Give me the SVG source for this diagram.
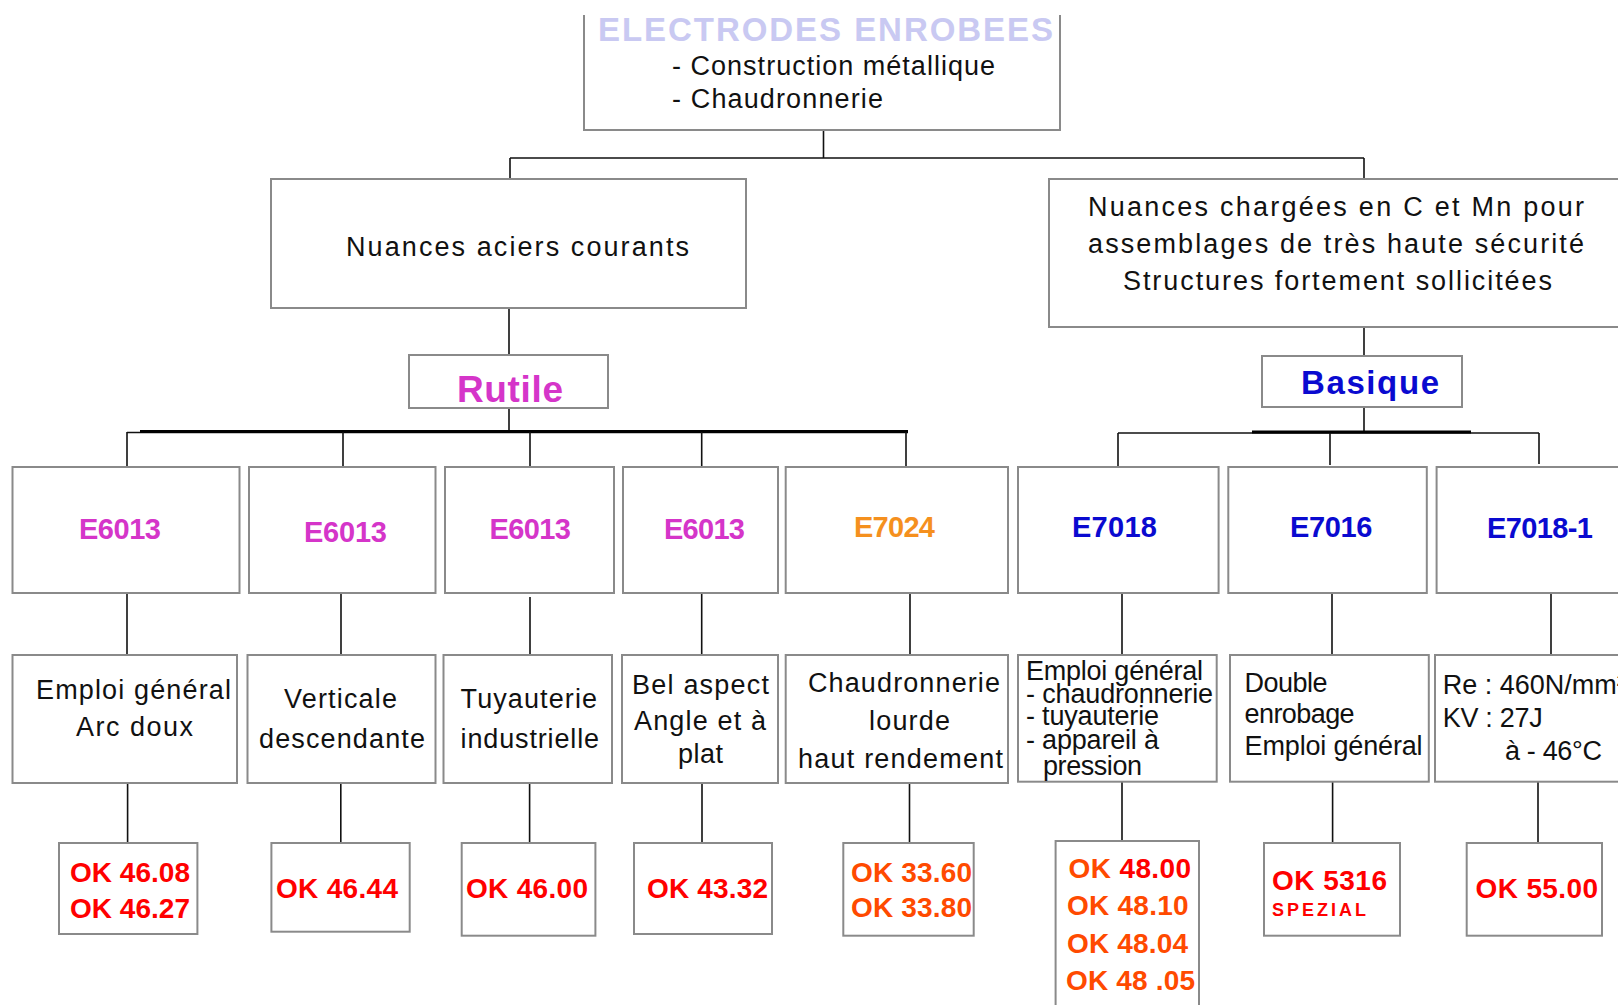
<svg xmlns="http://www.w3.org/2000/svg" width="1618" height="1005" viewBox="0 0 1618 1005">
<style>
.box{fill:#fff;stroke:#8a8a8a;stroke-width:2}
.c{fill:none;stroke:#111;stroke-width:1.6}
.thick{fill:none;stroke:#000;stroke-width:3}
text{font-family:"Liberation Sans",Arial,sans-serif}
.t{font-size:27px;fill:#111}
.code{font-size:29px;font-weight:bold}
.mag{fill:#d535c9}
.blu{fill:#0a0ad0}
.org{fill:#f5901e}
.ok{font-size:28px;font-weight:bold;fill:#ff0000}
.okr{font-size:28px;font-weight:bold;fill:#ff4a00}
</style>
<rect width="1618" height="1005" fill="#fff"/>

<g id="connectors">
<path class="c" d="M823.5,130V158M510,158H1364M510,158V179M1364,158V179"/>
<path class="c" d="M509,308V355M509,408V432M1364,327V356M1364,407V433"/>
<path class="c" d="M127,432.5H908"/>
<path class="thick" d="M140,431.5H908"/>
<path class="c" d="M127,432V467M343,432V467M530,432V467M701.7,432V467M906,432V467"/>
<path class="c" d="M1118,433H1539"/>
<path class="thick" d="M1252,432H1471"/>
<path class="c" d="M1118,433V467M1330,433V465M1539,433V464"/>
<path class="c" d="M127,593V655M341,593V655M530,597V655M701.7,593V655M910,593V655M1122,593V655M1332,593V655M1551,593V655"/>
<path class="c" d="M127.6,783V843M340.8,783V843M529.6,783V843M702,783V843M909.5,783V843M1122,782V841M1332.6,782V843M1538,782V843"/>
</g>

<g id="root">
<path class="box" d="M584,15V130H1060V15"/>
<text x="598" y="41" font-size="33" font-weight="bold" fill="#c9c9f2" textLength="455">ELECTRODES ENROBEES</text>
<text class="t" x="672" y="75" font-size="25" textLength="323">- Construction métallique</text>
<text class="t" x="672" y="108" font-size="25" textLength="211">- Chaudronnerie</text>
</g>

<g id="nuances-courants">
<rect class="box" x="271" y="179" width="475" height="129"/>
<text class="t" x="346" y="256" font-size="29" textLength="343">Nuances aciers courants</text>
</g>

<g id="nuances-chargees">
<rect class="box" x="1049" y="179" width="600" height="148"/>
<text class="t" x="1088" y="216" font-size="29" textLength="496">Nuances chargées en C et Mn pour</text>
<text class="t" x="1088" y="253" font-size="29" textLength="496">assemblages de très haute sécurité</text>
<text class="t" x="1123" y="290" font-size="29" textLength="429">Structures fortement sollicitées</text>
</g>

<g id="rutile">
<rect class="box" x="409" y="355" width="199" height="53"/>
<text x="457" y="402" font-size="37" font-weight="bold" class="mag" textLength="106">Rutile</text>
</g>

<g id="basique">
<rect class="box" x="1262" y="356" width="200" height="51"/>
<text x="1301" y="394" font-size="33" font-weight="bold" class="blu" textLength="138">Basique</text>
</g>

<g id="code-1"><rect class="box" x="12.5" y="467" width="227" height="126"/><text class="code mag" x="79" y="539" textLength="82">E6013</text></g>
<g id="code-2"><rect class="box" x="249" y="467" width="186.5" height="126"/><text class="code mag" x="304" y="541.5" textLength="83">E6013</text></g>
<g id="code-3"><rect class="box" x="445" y="467" width="169" height="126"/><text class="code mag" x="489.5" y="539" textLength="81.5">E6013</text></g>
<g id="code-4"><rect class="box" x="623" y="467" width="155" height="126"/><text class="code mag" x="664" y="539" textLength="81">E6013</text></g>
<g id="code-5"><rect class="box" x="785.7" y="467" width="222.3" height="126"/><text class="code org" x="854" y="537" textLength="81">E7024</text></g>
<g id="code-6"><rect class="box" x="1018" y="467" width="200.6" height="126"/><text class="code blu" x="1072" y="537" textLength="85">E7018</text></g>
<g id="code-7"><rect class="box" x="1228.3" y="467" width="198.5" height="126"/><text class="code blu" x="1290" y="537" textLength="82.5">E7016</text></g>
<g id="code-8"><rect class="box" x="1436.6" y="467" width="210" height="126"/><text class="code blu" x="1487" y="538" textLength="106">E7018-1</text></g>

<g id="use-1"><rect class="box" x="12.5" y="655" width="224.5" height="128"/>
<text class="t" x="36" y="699" textLength="195">Emploi général</text>
<text class="t" x="76" y="736" textLength="117">Arc doux</text></g>
<g id="use-2"><rect class="box" x="247.5" y="655" width="188" height="128"/>
<text class="t" x="284" y="708" textLength="113">Verticale</text>
<text class="t" x="259" y="748" textLength="166">descendante</text></g>
<g id="use-3"><rect class="box" x="443.5" y="655" width="168.5" height="128"/>
<text class="t" x="460.6" y="708" textLength="136.4">Tuyauterie</text>
<text class="t" x="460.6" y="748" textLength="138.4">industrielle</text></g>
<g id="use-4"><rect class="box" x="622" y="655" width="156" height="128"/>
<text class="t" x="632" y="694" textLength="137">Bel aspect</text>
<text class="t" x="634" y="730" textLength="132">Angle et à</text>
<text class="t" x="678" y="763" textLength="45">plat</text></g>
<g id="use-5"><rect class="box" x="785.7" y="655" width="222.3" height="128"/>
<text class="t" x="808" y="692" textLength="192">Chaudronnerie</text>
<text class="t" x="869" y="730" textLength="81">lourde</text>
<text class="t" x="798" y="768" textLength="205">haut rendement</text></g>
<g id="use-6"><rect class="box" x="1018" y="655" width="198.7" height="126.7"/>
<text class="t" x="1026" y="680" font-size="25" textLength="177">Emploi général</text>
<text class="t" x="1026" y="703" font-size="25" textLength="187">- chaudronnerie</text>
<text class="t" x="1026" y="725" font-size="25" textLength="133">- tuyauterie</text>
<text class="t" x="1026" y="749" font-size="25" textLength="133">- appareil à</text>
<text class="t" x="1043" y="775" font-size="25" textLength="99">pression</text></g>
<g id="use-7"><rect class="box" x="1230" y="655" width="198.8" height="126.7"/>
<text class="t" x="1244.6" y="692" font-size="26" textLength="83">Double</text>
<text class="t" x="1244.6" y="723" font-size="26" textLength="110">enrobage</text>
<text class="t" x="1244.6" y="755" font-size="26" textLength="178">Emploi général</text></g>
<g id="use-8"><rect class="box" x="1435" y="655" width="210" height="126.7"/>
<text class="t" x="1442.7" y="694" font-size="26">Re : 460N/mm²</text>
<text class="t" x="1442.7" y="727" font-size="26" textLength="100">KV : 27J</text>
<text class="t" x="1505" y="760" font-size="26" textLength="97">à - 46°C</text></g>

<g id="ok-1"><rect class="box" x="59" y="843" width="138.4" height="91"/>
<text class="ok" x="70" y="882" textLength="120">OK 46.08</text>
<text class="ok" x="70" y="918" textLength="120">OK 46.27</text></g>
<g id="ok-2"><rect class="box" x="271.4" y="843" width="138.3" height="88.7"/>
<text class="ok" x="276" y="898" textLength="122">OK 46.44</text></g>
<g id="ok-3"><rect class="box" x="461.7" y="843" width="133.7" height="92.7"/>
<text class="ok" x="466" y="898" textLength="122">OK 46.00</text></g>
<g id="ok-4"><rect class="box" x="634" y="843" width="138" height="91"/>
<text class="ok" x="647" y="898" textLength="121">OK 43.32</text></g>
<g id="ok-5"><rect class="box" x="843.3" y="843" width="130.4" height="92.7"/>
<text class="okr" x="851" y="882" textLength="121">OK 33.60</text>
<text class="okr" x="851" y="917" textLength="121">OK 33.80</text></g>
<g id="ok-6"><rect class="box" x="1055.6" y="841" width="143.4" height="180"/>
<text class="okr" x="1068.6" y="878" textLength="122.4">OK <tspan fill="#ff0000">48.00</tspan></text>
<text class="okr" x="1067" y="915" textLength="121.6">OK 48.10</text>
<text class="okr" x="1067" y="952.7" textLength="121">OK 48.04</text>
<text class="okr" x="1066" y="990" textLength="129">OK 48 .05</text></g>
<g id="ok-7"><rect class="box" x="1264" y="843" width="136" height="92.7"/>
<text class="ok" x="1272" y="890" textLength="115">OK 5316</text>
<text x="1272" y="916" font-size="18" font-weight="bold" fill="#ff0000" textLength="94">SPEZIAL</text></g>
<g id="ok-8"><rect class="box" x="1466.7" y="843" width="135.3" height="92.7"/>
<text class="ok" x="1475.5" y="898" textLength="122.5">OK 55.00</text></g>
</svg>
